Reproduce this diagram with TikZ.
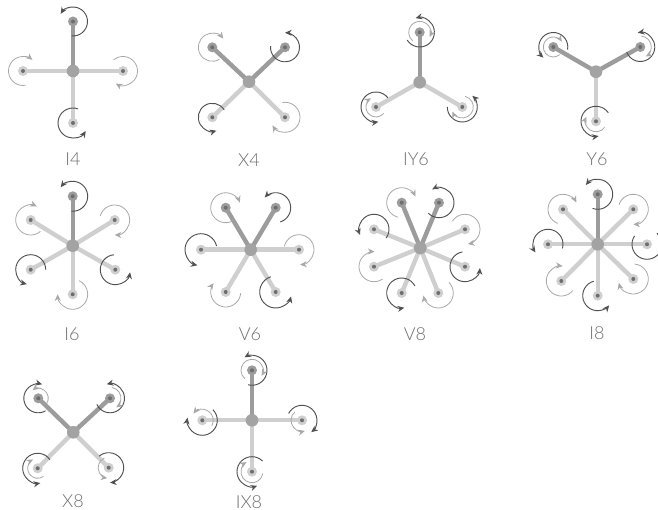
\documentclass[tikz,border=0pt]{standalone}
\usepackage{fontspec}
\setmainfont{Lato Light}
\usetikzlibrary{calc,arrows.meta}
\definecolor{armdk}{HTML}{9C9C9C}
\definecolor{armlt}{HTML}{CFCFCF}
\definecolor{hubc}{HTML}{A3A3A3}
\definecolor{rotdk}{HTML}{505050}
\definecolor{rotlt}{HTML}{A8A8A8}
\definecolor{dotc}{HTML}{6E6E6E}
\definecolor{labc}{HTML}{6E6E6E}
\tikzset{
  x=0.75pt,y=0.75pt,
  hub/.style={circle,fill=hubc,inner sep=0,minimum size=9.5pt},
  mdk/.style={circle,fill=armdk,inner sep=0,minimum size=7.5pt},
  mlt/.style={circle,fill=armlt,inner sep=0,minimum size=7.5pt},
  pin/.style={circle,fill=dotc,inner sep=0,minimum size=3pt},
  adk/.style={draw=armdk,line width=3.3pt},
  alt/.style={draw=armlt,line width=3.3pt},
  rdk/.style={draw=rotdk,line width=0.7pt,-{Stealth[length=5pt,width=4.5pt]}},
  rlt/.style={draw=rotlt,line width=0.6pt,-{Stealth[length=5pt,width=4.5pt]}},
  lab/.style={text=labc,font=\fontsize{13.5pt}{15pt}\selectfont,inner sep=0},
}
% positions in reference pixels (y downwards)
% \motor{name}{hub}{x}{y}{dk|lt}
\newcommand{\motor}[5]{%
  \coordinate (#1) at (#3,510-#4);
  \draw[a#5] (#2) -- (#1);
  \node[m#5] (#1d) at (#1) {};
  \node[pin] (#1p) at (#1) {};
}
% \rot{motor}{dk|lt}{radius}{start}{end}
\newcommand{\rot}[5]{%
  \draw[r#2] ($(#1)+(#4:#3)$) arc[start angle=#4,end angle=#5,radius=#3];
}
\newcommand{\hubat}[3]{\coordinate (#1) at (#2,510-#3);}
\newcommand{\hubtop}[1]{\node[hub] (#1n) at (#1) {};}
\newcommand{\labat}[4]{\node[lab] (#1) at (#2,510-#3) {#4};}
\begin{document}
\begin{tikzpicture}
\useasboundingbox (0,0) rectangle (658,510);
% I4
\hubat{a}{73}{71}
\motor{a1}{a}{73}{21.5}{dk}\motor{a2}{a}{23}{71}{lt}\motor{a3}{a}{123}{71}{lt}\motor{a4}{a}{73}{123}{lt}
\hubtop{a}
\rot{a1}{dk}{14.5}{-95}{148}
\rot{a2}{lt}{14.5}{-80}{-310}
\rot{a3}{lt}{14.5}{130}{-120}
\rot{a4}{dk}{15}{70}{328}
\labat{la}{73}{159}{I4}
% X4
\hubat{b}{249}{81.7}
\motor{b1}{b}{212.3}{47.3}{dk}\motor{b2}{b}{285}{47.3}{dk}\motor{b3}{b}{212.3}{117.3}{lt}\motor{b4}{b}{285}{117.3}{lt}
\hubtop{b}
\rot{b1}{lt}{14}{-59}{-322}
\rot{b2}{dk}{14.5}{175}{450}
\rot{b3}{dk}{14}{32}{287}
\rot{b4}{lt}{15}{100}{-147}
\labat{lb}{249}{160}{X4}
% IY6
\hubat{c}{419.7}{82.3}
\motor{c1}{c}{419.7}{32.3}{dk}\motor{c2}{c}{376}{107}{lt}\motor{c3}{c}{462.3}{107}{lt}
\hubtop{c}
\rot{c1}{dk}{14.7}{212}{466}
\rot{c1}{lt}{11}{230}{-25}
\rot{c2}{dk}{15}{38}{279}
\rot{c2}{lt}{10}{-40}{-240}
\rot{c3}{dk}{15}{180}{408}
\rot{c3}{lt}{11}{75}{-155}
\labat{lc}{416}{159}{IY6}
% Y6
\hubat{d}{596}{71.7}
\motor{d1}{d}{553.3}{47}{dk}\motor{d2}{d}{640.3}{47}{dk}\motor{d3}{d}{596}{121.3}{lt}
\hubtop{d}
\rot{d1}{dk}{14.5}{-10}{227}
\rot{d1}{lt}{10}{-50}{-328}
\rot{d2}{dk}{14.5}{200}{460}
\rot{d2}{lt}{11}{85}{-60}
\rot{d3}{dk}{15}{35}{280}
\rot{d3}{lt}{10.5}{-35}{-205}
\labat{ld}{597}{159}{Y6}
% I6
\hubat{e}{72.7}{245.7}
\motor{e1}{e}{72.7}{196.3}{dk}\motor{e2}{e}{30.7}{220}{lt}\motor{e3}{e}{114.7}{220}{lt}\motor{e4}{e}{30.7}{269.7}{lt}\motor{e5}{e}{115.3}{269.7}{lt}\motor{e6}{e}{72.7}{294.3}{lt}
\hubtop{e}
\rot{e1}{dk}{15}{-95}{143}
\rot{e2}{lt}{15}{-50}{-294}
\rot{e3}{lt}{15}{165}{-90}
\rot{e4}{dk}{15}{0}{255}
\rot{e5}{dk}{15}{95}{350}
\rot{e6}{lt}{15}{65}{-180}
\labat{le}{72}{334}{I6}
% V6
\hubat{f}{250.7}{249.7}
\motor{f1}{f}{225.7}{207.7}{dk}\motor{f2}{f}{275.7}{207.7}{dk}\motor{f3}{f}{201}{249.7}{lt}\motor{f4}{f}{299}{249.7}{lt}\motor{f5}{f}{225.7}{292}{lt}\motor{f6}{f}{275.7}{292}{lt}
\hubtop{f}
\rot{f1}{lt}{15}{-60}{-340}
\rot{f2}{dk}{15}{-72}{137}
\rot{f3}{dk}{16}{13}{257}
\rot{f4}{lt}{15}{167}{-86}
\rot{f5}{lt}{15}{-5}{-216}
\rot{f6}{dk}{16}{108}{344}
\labat{lf}{250}{334}{V6}
% V8
\hubat{g}{420.3}{248}
\motor{g1}{g}{401.7}{202.7}{dk}\motor{g2}{g}{439}{202.7}{dk}\motor{g3}{g}{374}{229.3}{lt}\motor{g4}{g}{465}{229.3}{lt}\motor{g5}{g}{374}{266.7}{lt}\motor{g6}{g}{465}{266.7}{lt}\motor{g7}{g}{401.7}{293}{lt}\motor{g8}{g}{438.3}{293}{lt}
\hubtop{g}
\rot{g1}{lt}{15}{-105}{-336}
\rot{g2}{dk}{15}{225}{477}
\rot{g3}{dk}{15}{-36}{202}
\rot{g4}{lt}{15}{147}{-79}
\rot{g5}{lt}{15}{-55}{-272}
\rot{g6}{dk}{15}{100}{355}
\rot{g7}{dk}{15}{28}{280}
\rot{g8}{lt}{15}{45}{-170}
\labat{lg}{415}{334}{V8}
% I8
\hubat{h}{597.7}{244.3}
\motor{h1}{h}{597.7}{194.3}{dk}\motor{h2}{h}{563}{209.3}{lt}\motor{h3}{h}{633.3}{209.3}{lt}\motor{h4}{h}{548}{244.3}{lt}\motor{h5}{h}{647}{244.3}{lt}\motor{h6}{h}{561.3}{281}{lt}\motor{h7}{h}{633.3}{279}{lt}\motor{h8}{h}{597.7}{295.7}{lt}
\hubtop{h}
\rot{h1}{dk}{15}{-110}{142}
\rot{h2}{lt}{15}{-110}{-333}
\rot{h3}{lt}{15}{162}{-90}
\rot{h4}{dk}{15}{-16}{213}
\rot{h5}{dk}{15}{146}{410}
\rot{h6}{lt}{15}{-40}{-275}
\rot{h7}{lt}{15}{85}{-165}
\rot{h8}{dk}{15}{105}{320}
\labat{lh}{597}{333}{I8}
% X8
\hubat{i}{73.3}{432.3}
\motor{i1}{i}{38.3}{398.3}{dk}\motor{i2}{i}{110}{398.3}{dk}\motor{i3}{i}{37.7}{468.3}{lt}\motor{i4}{i}{108.7}{467.7}{lt}
\hubtop{i}
\rot{i1}{dk}{14.5}{-60}{-285}
\rot{i1}{lt}{10}{-35}{125}
\rot{i2}{dk}{14.5}{205}{463}
\rot{i2}{lt}{11}{80}{-55}
\rot{i3}{dk}{15}{35}{280}
\rot{i3}{lt}{10}{-55}{-242}
\rot{i4}{dk}{15}{130}{-85}
\rot{i4}{lt}{10.5}{115}{262}
\labat{li}{73}{500.7}{X8}
% IX8
\hubat{j}{252}{420.3}
\motor{j1}{j}{252}{370.3}{dk}\motor{j2}{j}{202.3}{420.3}{lt}\motor{j3}{j}{302}{420.3}{lt}\motor{j4}{j}{252}{471.7}{lt}
\hubtop{j}
\rot{j1}{dk}{15}{-105}{120}
\rot{j1}{lt}{11}{230}{-30}
\rot{j2}{dk}{15}{45}{-190}
\rot{j2}{lt}{11}{-30}{143}
\rot{j3}{dk}{15}{153}{-52}
\rot{j3}{lt}{11}{130}{285}
\rot{j4}{dk}{15}{45}{290}
\rot{j4}{lt}{11}{-10}{-240}
\labat{lj}{249}{502}{IX8}
\end{tikzpicture}
\end{document}
